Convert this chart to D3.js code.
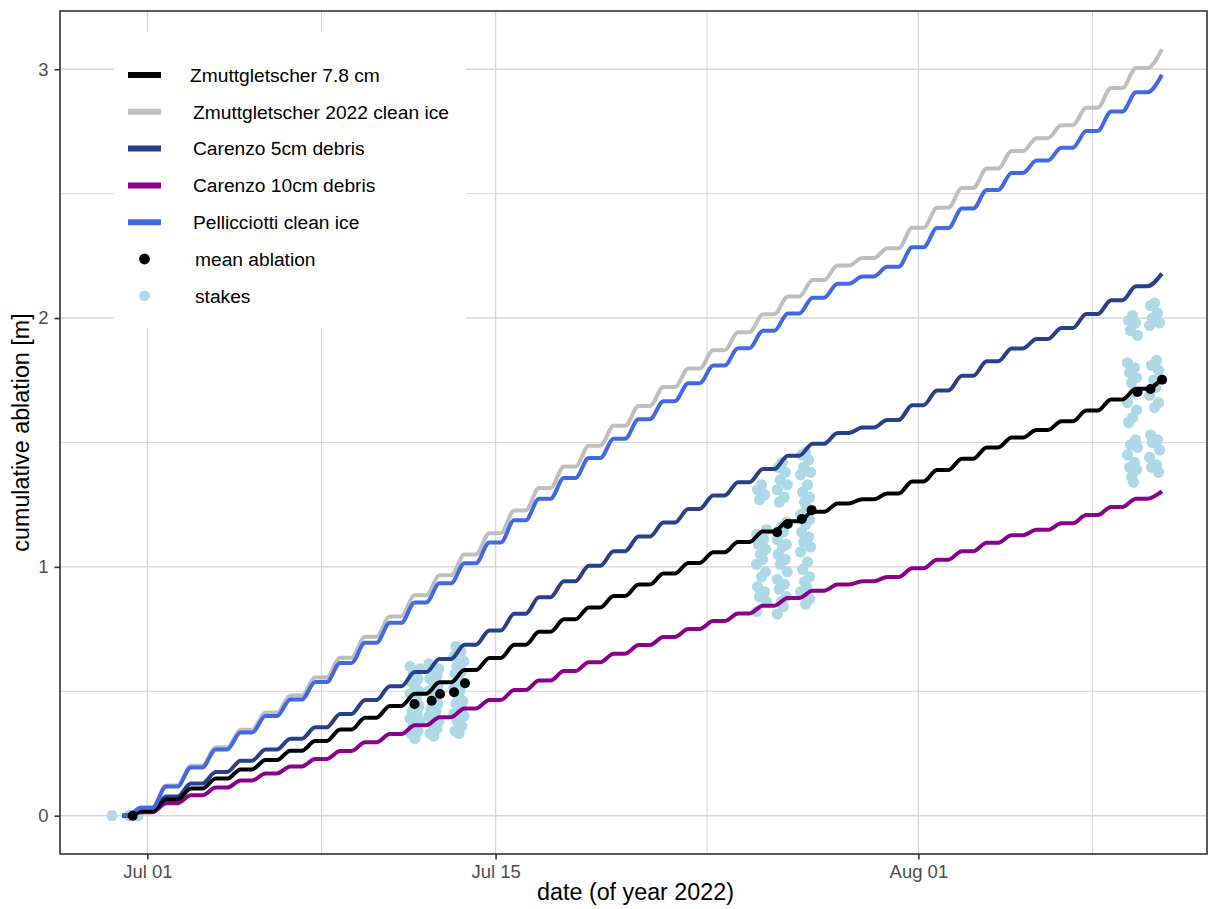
<!DOCTYPE html>
<html>
<head>
<meta charset="utf-8">
<script src="https://cdn.jsdelivr.net/npm/d3@7"></script>
<style>
  html, body { margin: 0; padding: 0; background: #ffffff; }
  svg { display: block; font-family: "Liberation Sans", Arial, Helvetica, sans-serif; }
</style>
</head>
<body>
<svg id="chart" width="1209" height="909"></svg>
<script>
// ---------------- data ----------------
// Cumulative ablation (m) at the start of each day, 30 Jun .. 10 Aug 2022,
// last entry = value at the end of the record (10 Aug, 19:00).
const zmuttDebris78 = [0, 0.018, 0.065, 0.109, 0.149, 0.186, 0.224, 0.261, 0.300, 0.346,
  0.394, 0.441, 0.490, 0.536, 0.585, 0.634, 0.687, 0.739, 0.789, 0.837,
  0.883, 0.929, 0.973, 1.016, 1.059, 1.100, 1.142, 1.183, 1.221, 1.255,
  1.272, 1.295, 1.343, 1.389, 1.435, 1.480, 1.520, 1.550, 1.585, 1.628,
  1.673, 1.716, 1.756];
const zmuttCleanIce = [0, 0.033, 0.121, 0.201, 0.275, 0.345, 0.415, 0.483, 0.555, 0.635,
  0.719, 0.801, 0.886, 0.966, 1.050, 1.135, 1.227, 1.317, 1.403, 1.487,
  1.567, 1.647, 1.723, 1.797, 1.871, 1.943, 2.015, 2.087, 2.153, 2.211,
  2.241, 2.281, 2.363, 2.443, 2.523, 2.601, 2.671, 2.723, 2.775, 2.845,
  2.925, 3.005, 3.080];
const carenzo5cm = [0, 0.021, 0.077, 0.129, 0.176, 0.221, 0.266, 0.309, 0.355, 0.409,
  0.465, 0.520, 0.577, 0.630, 0.687, 0.744, 0.812, 0.878, 0.942, 1.004,
  1.063, 1.122, 1.178, 1.233, 1.287, 1.340, 1.393, 1.447, 1.495, 1.538,
  1.560, 1.590, 1.650, 1.709, 1.768, 1.826, 1.878, 1.916, 1.960, 2.016,
  2.072, 2.128, 2.179];
const carenzo10cm = [0, 0.014, 0.050, 0.082, 0.113, 0.141, 0.170, 0.198, 0.228, 0.260,
  0.295, 0.328, 0.363, 0.396, 0.431, 0.465, 0.505, 0.543, 0.581, 0.617,
  0.651, 0.686, 0.718, 0.750, 0.782, 0.813, 0.844, 0.875, 0.904, 0.929,
  0.942, 0.959, 0.994, 1.029, 1.063, 1.097, 1.127, 1.149, 1.175, 1.208,
  1.241, 1.274, 1.303];
const pellicciottiCleanIce = [0, 0.032, 0.117, 0.194, 0.266, 0.334, 0.401, 0.467, 0.537, 0.614,
  0.695, 0.775, 0.857, 0.934, 1.015, 1.098, 1.187, 1.274, 1.357, 1.438,
  1.515, 1.593, 1.666, 1.738, 1.809, 1.879, 1.949, 2.018, 2.082, 2.138,
  2.167, 2.206, 2.285, 2.362, 2.440, 2.515, 2.583, 2.633, 2.684, 2.752,
  2.830, 2.907, 2.978];

const firstDay = "2022-06-30";

// Mean ablation of the stake network
const meanTimes = ["2022-06-30 09:50", "2022-07-11 17:45", "2022-07-12 10:20", "2022-07-12 18:25",
  "2022-07-13 07:55", "2022-07-13 18:30", "2022-07-26 07:40", "2022-07-26 18:00",
  "2022-07-27 07:30", "2022-07-27 17:00", "2022-08-09 19:30", "2022-08-10 08:00",
  "2022-08-10 19:10"];
const meanValues = [0, 0.449, 0.462, 0.489, 0.496, 0.532, 1.139, 1.172, 1.192, 1.228, 1.703, 1.715, 1.752];

// Individual stake readings, one list per survey
const stakeTimes = ["2022-06-29 13:50", "2022-06-30 10:00", "2022-07-11 18:15", "2022-07-12 12:30",
  "2022-07-13 12:40", "2022-07-25 16:40", "2022-07-26 12:40", "2022-07-27 11:10",
  "2022-08-09 14:40", "2022-08-10 11:55"];
const stakeValues = [
  [0],
  [0, 0, 0, 0, 0],
  [0.31, 0.33, 0.34, 0.36, 0.38, 0.39, 0.41, 0.42, 0.44, 0.46, 0.47, 0.49, 0.50, 0.52, 0.54, 0.55, 0.57, 0.59, 0.60],
  [0.32, 0.33, 0.35, 0.37, 0.38, 0.40, 0.42, 0.43, 0.45, 0.47, 0.48, 0.50, 0.52, 0.53, 0.55, 0.56, 0.58, 0.59, 0.61],
  [0.33, 0.34, 0.36, 0.38, 0.40, 0.41, 0.43, 0.45, 0.46, 0.48, 0.50, 0.51, 0.53, 0.55, 0.57, 0.58, 0.60, 0.62, 0.64, 0.66, 0.68],
  [1.33, 1.31, 1.29, 1.27, 1.15, 1.13, 1.11, 1.09, 1.07, 1.05, 1.03, 1.01, 0.98, 0.96, 0.92, 0.90, 0.88, 0.86, 0.82],
  [1.42, 1.40, 1.38, 1.35, 1.33, 1.31, 1.28, 1.26, 1.18, 1.16, 1.14, 1.11, 1.09, 1.08, 1.05, 1.03, 1.01, 0.98, 0.95, 0.93, 0.91, 0.88, 0.86, 0.84, 0.81],
  [1.46, 1.45, 1.43, 1.40, 1.38, 1.37, 1.33, 1.30, 1.28, 1.26, 1.24, 1.21, 1.19, 1.17, 1.14, 1.12, 1.10, 1.08, 1.06, 1.02, 0.99, 0.96, 0.94, 0.92, 0.90, 0.87, 0.85],
  [2.01, 1.99, 1.98, 1.95, 1.93, 1.82, 1.80, 1.78, 1.76, 1.74, 1.70, 1.66, 1.63, 1.60, 1.58, 1.51, 1.49, 1.48, 1.45, 1.42, 1.40, 1.39, 1.36, 1.34],
  [2.06, 2.05, 2.02, 2.00, 1.98, 1.97, 1.83, 1.81, 1.79, 1.75, 1.72, 1.69, 1.66, 1.64, 1.53, 1.51, 1.50, 1.47, 1.44, 1.41, 1.40, 1.38]
];

// Axis limits and breaks
const xLimits = ["2022-06-27 11:40", "2022-08-12 14:31"];
const xMajorBreaks = ["2022-07-01 00:00", "2022-07-15 00:00", "2022-08-01 00:00"];
const xMajorLabels = ["Jul 01", "Jul 15", "Aug 01"];
const xMinorBreaks = ["2022-07-08 00:00", "2022-07-23 12:00", "2022-08-08 00:00"];
const yLimits = [-0.154, 3.234];
const yMajorBreaks = [0, 1, 2, 3];
const yMinorBreaks = [0.5, 1.5, 2.5];

// Legend entries
const lineLegend = ["Zmuttgletscher 7.8 cm", "Zmuttgletscher 2022 clean ice", "Carenzo 5cm debris",
  "Carenzo 10cm debris", "Pellicciotti clean ice"];
const pointLegend = ["mean ablation", "stakes"];

// ---------------- styles ----------------
const colors = {
  "Zmuttgletscher 7.8 cm": "#000000",
  "Zmuttgletscher 2022 clean ice": "#BEBEBE",
  "Carenzo 5cm debris": "#27408B",
  "Carenzo 10cm debris": "#8B008B",
  "Pellicciotti clean ice": "#4169E1",
  "mean ablation": "#000000",
  "stakes": "#ADD8E6"
};
const seriesData = {
  "Zmuttgletscher 7.8 cm": zmuttDebris78,
  "Zmuttgletscher 2022 clean ice": zmuttCleanIce,
  "Carenzo 5cm debris": carenzo5cm,
  "Carenzo 10cm debris": carenzo10cm,
  "Pellicciotti clean ice": pellicciottiCleanIce
};
const drawOrder = ["Zmuttgletscher 2022 clean ice", "Carenzo 5cm debris", "Carenzo 10cm debris",
  "Zmuttgletscher 7.8 cm", "Pellicciotti clean ice"];
// small horizontal spread so stakes of one survey do not sit on a single column
const jitterPx = [0, -4, 3, -2, 5, -5, 2, -3, 4, -1, 1, -5, 4];

const panel = { left: 60, right: 1207, top: 11, bottom: 854 };
const gridColor = "#D6D6D6";
const frameColor = "#333333";
const tickTextColor = "#4D4D4D";

// ---------------- build ----------------
const parseT = d3.timeParse("%Y-%m-%d %H:%M");
const parseD = d3.timeParse("%Y-%m-%d");
const svg = d3.select("#chart");

const x = d3.scaleTime().domain(xLimits.map(parseT)).range([panel.left, panel.right]);
const y = d3.scaleLinear().domain(yLimits).range([panel.bottom, panel.top]);

// daily record -> melt during the day (05:00 to 18:00), nearly flat overnight
function dailyPoints(values) {
  const d0 = parseD(firstDay);
  const at = (k, h) => new Date(d0.getFullYear(), d0.getMonth(), d0.getDate() + k, h);
  const pts = [{ t: at(0, 0), v: values[0] }];
  for (let k = 0; k < values.length - 1; k++) {
    const endHour = (k === values.length - 2) ? 19 : 18;
    pts.push({ t: at(k, 5), v: values[k] });
    pts.push({ t: at(k, endHour), v: values[k + 1] });
  }
  return pts;
}

svg.append("rect").attr("width", 1209).attr("height", 909).attr("fill", "#ffffff");

const clipId = "panel-clip";
svg.append("clipPath").attr("id", clipId).append("rect")
  .attr("x", panel.left).attr("y", panel.top)
  .attr("width", panel.right - panel.left).attr("height", panel.bottom - panel.top);

// grid
const grid = svg.append("g");
grid.selectAll(".ymin").data(yMinorBreaks).join("line")
  .attr("x1", panel.left).attr("x2", panel.right)
  .attr("y1", d => y(d)).attr("y2", d => y(d))
  .attr("stroke", gridColor).attr("stroke-width", 1);
grid.selectAll(".xmin").data(xMinorBreaks.map(parseT)).join("line")
  .attr("y1", panel.top).attr("y2", panel.bottom)
  .attr("x1", d => x(d)).attr("x2", d => x(d))
  .attr("stroke", gridColor).attr("stroke-width", 1);
grid.selectAll(".ymaj").data(yMajorBreaks).join("line")
  .attr("x1", panel.left).attr("x2", panel.right)
  .attr("y1", d => y(d)).attr("y2", d => y(d))
  .attr("stroke", gridColor).attr("stroke-width", 1.4);
grid.selectAll(".xmaj").data(xMajorBreaks.map(parseT)).join("line")
  .attr("y1", panel.top).attr("y2", panel.bottom)
  .attr("x1", d => x(d)).attr("x2", d => x(d))
  .attr("stroke", gridColor).attr("stroke-width", 1.4);

const plot = svg.append("g").attr("clip-path", `url(#${clipId})`);

// stakes
const stakePoints = [];
stakeTimes.forEach((ts, i) => {
  const t = parseT(ts);
  stakeValues[i].forEach((v, j) => stakePoints.push({ t, v, dx: jitterPx[j % jitterPx.length] }));
});
plot.append("g").selectAll("circle").data(stakePoints).join("circle")
  .attr("cx", d => x(d.t) + d.dx).attr("cy", d => y(d.v)).attr("r", 5.6)
  .attr("fill", colors["stakes"]);

// modelled lines
const line = d3.line().x(d => x(d.t)).y(d => y(d.v)).curve(d3.curveMonotoneX);
drawOrder.forEach(name => {
  plot.append("path").datum(dailyPoints(seriesData[name]))
    .attr("d", line).attr("fill", "none")
    .attr("stroke", colors[name]).attr("stroke-width", 4)
    .attr("stroke-linejoin", "round");
});

// mean ablation
const meanPoints = meanTimes.map((ts, i) => ({ t: parseT(ts), v: meanValues[i] }));
plot.append("g").selectAll("circle").data(meanPoints).join("circle")
  .attr("cx", d => x(d.t)).attr("cy", d => y(d.v)).attr("r", 5)
  .attr("fill", colors["mean ablation"]);

// legend
const legend = svg.append("g");
legend.append("rect").attr("x", 114).attr("y", 32).attr("width", 352).attr("height", 296)
  .attr("fill", "#ffffff");
const rowY = i => 75 + i * 36.8;
lineLegend.forEach((name, i) => {
  legend.append("line").attr("x1", 128).attr("x2", 161)
    .attr("y1", rowY(i)).attr("y2", rowY(i))
    .attr("stroke", colors[name]).attr("stroke-width", 6);
  legend.append("text").attr("x", i === 0 ? 190 : 193).attr("y", rowY(i))
    .attr("dy", "0.35em").attr("font-size", 19.2).attr("fill", "#000000").text(name);
});
pointLegend.forEach((name, j) => {
  const i = lineLegend.length + j;
  legend.append("circle").attr("cx", 144.5).attr("cy", rowY(i)).attr("r", 5.4)
    .attr("fill", colors[name]);
  legend.append("text").attr("x", 195).attr("y", rowY(i))
    .attr("dy", "0.35em").attr("font-size", 19.2).attr("fill", "#000000").text(name);
});

// panel frame
svg.append("rect").attr("x", panel.left).attr("y", panel.top)
  .attr("width", panel.right - panel.left).attr("height", panel.bottom - panel.top)
  .attr("fill", "none").attr("stroke", frameColor).attr("stroke-width", 1.6);

// axes
const xAxis = d3.axisBottom(x)
  .tickValues(xMajorBreaks.map(parseT))
  .tickFormat((d, i) => xMajorLabels[i])
  .tickSize(5.5).tickPadding(5);
const gx = svg.append("g").attr("transform", `translate(0,${panel.bottom})`).call(xAxis);
gx.select(".domain").remove();
gx.selectAll(".tick line").attr("stroke", frameColor).attr("stroke-width", 1.6);
gx.selectAll(".tick text").attr("font-size", 18.5).attr("fill", tickTextColor)
  .attr("font-family", "Liberation Sans, Arial, sans-serif");

const yAxis = d3.axisLeft(y).tickValues(yMajorBreaks).tickFormat(d3.format("d"))
  .tickSize(5.5).tickPadding(6);
const gy = svg.append("g").attr("transform", `translate(${panel.left},0)`).call(yAxis);
gy.select(".domain").remove();
gy.selectAll(".tick line").attr("stroke", frameColor).attr("stroke-width", 1.6);
gy.selectAll(".tick text").attr("font-size", 18.5).attr("fill", tickTextColor)
  .attr("font-family", "Liberation Sans, Arial, sans-serif");

// axis titles
svg.append("text").attr("x", (panel.left + panel.right) / 2 + 2).attr("y", 900)
  .attr("text-anchor", "middle").attr("font-size", 23.3).attr("fill", "#000000")
  .text("date (of year 2022)");
svg.append("text")
  .attr("transform", `translate(29,${(panel.top + panel.bottom) / 2}) rotate(-90)`)
  .attr("text-anchor", "middle").attr("font-size", 23.3).attr("fill", "#000000")
  .text("cumulative ablation [m]");
</script>
</body>
</html>
